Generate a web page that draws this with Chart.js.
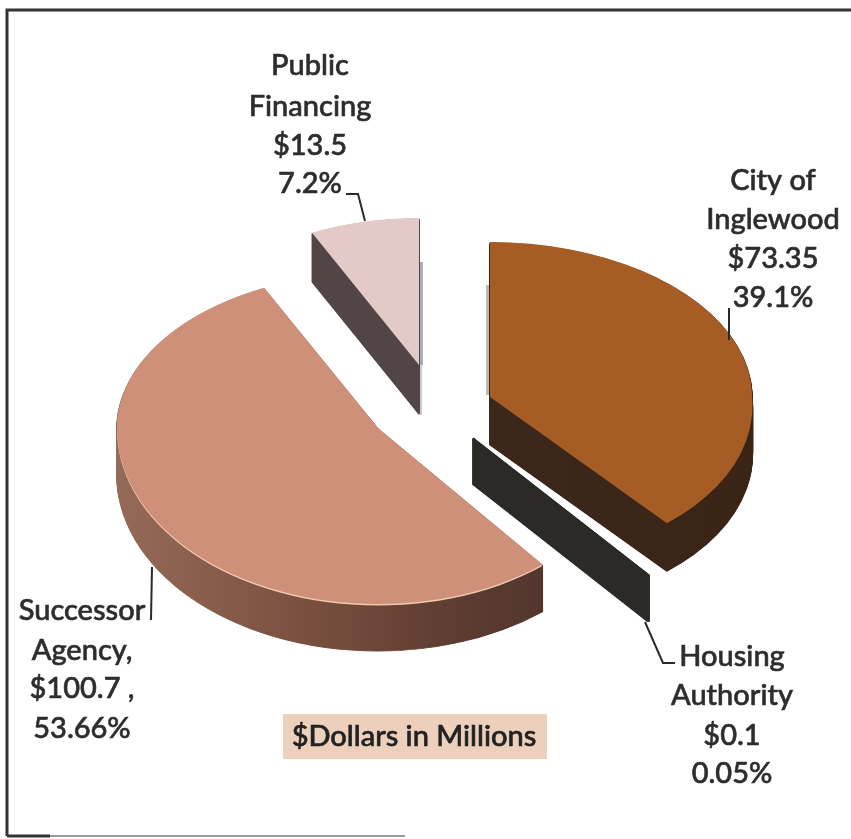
<!DOCTYPE html>
<html><head><meta charset="utf-8">
<style>html,body{margin:0;padding:0;background:#fff;overflow:hidden}#w{position:relative;width:851px;height:839px}canvas{display:block}</style>
<script src="https://cdn.jsdelivr.net/npm/chart.js@4"></script></head>
<body><div id="w"><canvas id="c" width="851" height="839"></canvas></div>
<script>
const categories=['City of Inglewood','Housing Authority','Successor Agency','Public Financing'];
const amounts=[73.35,0.1,100.7,13.5];
const labelLines=[['City of','Inglewood','$73.35','39.1%'],['Housing','Authority','$0.1','0.05%'],['Successor','Agency,','$100.7 ,','53.66%'],['Public','Financing','$13.5','7.2%']];
const topColors=['#a55d25','#2b2a26','#cf9079','#e3c9c7'];
// per-slice placement of the exploded 3D look
const tips=[[490,397],[473,438],[378,428],[419,365]];
const radii=[262,278,261,245];
const backRy=[155,175,156,147];
const frontRy=[163,177,176,147];
const frontShear=[0.087,0,0,0];
const depths=[48,46,47,49];
const sideStops=[[['0','#3f2b1f'],['1','#392416']],[['0','#2b2a26'],['1','#2b2a26']],[['0','#966a58'],['0.35','#7a5040'],['0.65','#5d3c31'],['1','#46302a']],[['0','#524546'],['1','#524546']]];
const labelPos=[[773,[190,229,268,307]],[732,[666,705,745,783]],[82,[620,660,698,738]],[310,[75,116,155,193]]];
const leaders=[[[729,308],[729,340]],[[645,622],[663,663],[675,663]],[[152,567],[151,620]],[[346,194],[358,194],[365,221]]];
const FONT='500 29px Lato';

function drawPiece(ctx,arc,i,dy,opts){
  const [tx,ty]=tips[i];const s=radii[i]/260;
  const parts=[[backRy[i],-1,0],[frontRy[i],1,frontShear[i]]];
  parts.forEach(([ry,side,sh])=>{
    ctx.save();ctx.beginPath();
    if(side<0)ctx.rect(0,0,851,ty+dy+0.5);else ctx.rect(0,ty+dy-0.5,851,839);
    ctx.clip();
    ctx.translate(tx,ty+dy);ctx.transform(1,0,sh,1,0,0);ctx.scale(s,ry/260);ctx.translate(-arc.x,-arc.y);
    const saved=arc.options;
    if(opts){const o=Object.create(saved);Object.assign(o,opts);arc.options=o;}
    arc.draw(ctx);
    arc.options=saved;
    ctx.restore();
  });
}
const pie3d={id:'pie3d',
 beforeDatasetsDraw(chart){
  const ctx=chart.ctx;const arcs=chart.getDatasetMeta(0).data;
  ctx.save();ctx.fillStyle='#a9adb8';ctx.fillRect(419,262,4,103);ctx.fillStyle='#c9cbd0';ctx.fillRect(419,365,3,50);
  ctx.fillStyle='#b9b9b9';ctx.fillRect(486,285,4,110);ctx.restore();
  [3,2,1,0].forEach(i=>{
   const arc=arcs[i];
   const g=ctx.createLinearGradient(arc.x-260,0,arc.x+260,0);
   sideStops[i].forEach(([p,c])=>g.addColorStop(+p,c));
   const step=i===1?0.5:1;
   for(let d=depths[i];d>=step;d-=step){
     drawPiece(ctx,arc,i,d,{backgroundColor:g,borderColor:g,borderWidth:i===1?2.5:1.5});
   }
   if(i===2)drawPiece(ctx,arc,i,1.5,{backgroundColor:'#f2c9ad',borderWidth:0});
   if(i!==1)drawPiece(ctx,arc,i,0,{borderWidth:0});
   else drawPiece(ctx,arc,i,0,{borderColor:topColors[1],borderWidth:1});
  });
  return false;
 },
 afterDraw(chart){
  const ctx=chart.ctx;ctx.save();
  // frame
  ctx.strokeStyle='#333';ctx.lineWidth=3;
  ctx.beginPath();ctx.moveTo(7,836);ctx.lineTo(7,10);ctx.lineTo(851,10);ctx.stroke();
  ctx.beginPath();ctx.moveTo(7,836);ctx.lineTo(50,836);ctx.stroke();
  ctx.strokeStyle='#9a9a9a';ctx.lineWidth=2;ctx.beginPath();ctx.moveTo(50,836);ctx.lineTo(405,836);ctx.stroke();
  // leaders
  ctx.strokeStyle='#2a2a2a';ctx.lineWidth=2;
  leaders.forEach(l=>{ctx.beginPath();l.forEach((p,k)=>k?ctx.lineTo(p[0],p[1]):ctx.moveTo(p[0],p[1]));ctx.stroke();});
  // labels
  ctx.fillStyle='#2d2d2b';ctx.strokeStyle='#2d2d2b';ctx.lineWidth=0.6;ctx.font=FONT;ctx.textAlign='center';ctx.textBaseline='alphabetic';
  labelLines.forEach((lines,i)=>{const [x,ys]=labelPos[i];lines.forEach((t,k)=>{ctx.fillText(t,x,ys[k]);ctx.strokeText(t,x,ys[k]);});});
  ctx.fillStyle='#ecd0bb';ctx.fillRect(283,714,264,45);
  ctx.fillStyle='#222';ctx.strokeStyle='#222';ctx.fillText('$Dollars in Millions',414,746);ctx.strokeText('$Dollars in Millions',414,746);
  ctx.restore();
 }};
new Chart(document.getElementById('c'),{
 type:'pie',
 data:{labels:categories,datasets:[{data:amounts,backgroundColor:topColors,borderWidth:0}]},
 options:{responsive:false,animation:false,radius:260,events:[],layout:{padding:0},
  plugins:{legend:{display:false},tooltip:{enabled:false}}},
 plugins:[pie3d]
});
</script></body></html>
